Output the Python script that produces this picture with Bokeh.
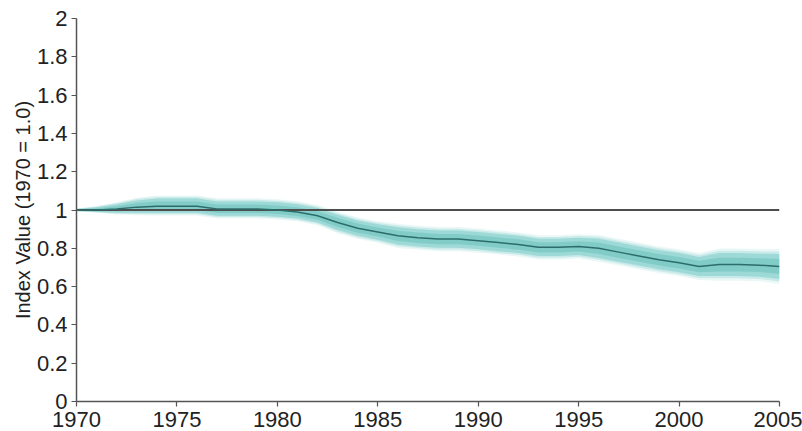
from bokeh.plotting import figure
from bokeh.models import FixedTicker, CustomJSTickFormatter, ColumnDataSource
from bokeh.embed import file_html
from bokeh.resources import INLINE

years = list(range(1970, 2006))
index_value = [1.00, 1.00, 1.005, 1.015, 1.02, 1.02, 1.02, 1.005, 1.005, 1.005,
               1.00, 0.99, 0.97, 0.935, 0.905, 0.885, 0.865, 0.855, 0.848, 0.848,
               0.84, 0.83, 0.82, 0.805, 0.805, 0.81, 0.80, 0.78, 0.76, 0.74,
               0.725, 0.705, 0.715, 0.715, 0.712, 0.705]
upper = [1.005, 1.015, 1.03, 1.05, 1.06, 1.06, 1.06, 1.045, 1.045, 1.045,
         1.04, 1.03, 1.01, 0.975, 0.945, 0.925, 0.91, 0.90, 0.893, 0.893,
         0.885, 0.875, 0.865, 0.85, 0.85, 0.855, 0.85, 0.83, 0.81, 0.79,
         0.775, 0.755, 0.775, 0.775, 0.772, 0.77]
lower = [0.995, 0.99, 0.985, 0.985, 0.985, 0.985, 0.985, 0.97, 0.97, 0.97,
         0.965, 0.955, 0.935, 0.895, 0.865, 0.845, 0.82, 0.81, 0.803, 0.803,
         0.795, 0.785, 0.775, 0.76, 0.76, 0.765, 0.75, 0.73, 0.71, 0.69,
         0.675, 0.655, 0.655, 0.655, 0.652, 0.64]
baseline = [1.0, 1.0]
baseline_years = [1970, 2005]
x_ticks = [1970, 1975, 1980, 1985, 1990, 1995, 2000, 2005]
y_ticks = [0, 0.2, 0.4, 0.6, 0.8, 1, 1.2, 1.4, 1.6, 1.8, 2]

FONT = "Liberation Sans"

p = figure(width=802, height=431, x_range=(1970, 2005), y_range=(0, 2),
           output_backend="svg", toolbar_location=None,
           min_border_left=76, min_border_right=23, min_border_top=18,
           min_border_bottom=30)
p.outline_line_color = None
p.grid.visible = False
p.background_fill_color = "white"

src = ColumnDataSource(dict(x=years, y=index_value, up=upper, lo=lower))

# fuzzy band: several layers
mid = index_value
for scale, color, alpha in [(1.4, "#dcf2f1", 0.6), (1.2, "#b2e1de", 0.6),
                            (1.0, "#86d0cc", 0.65), (0.6, "#62bdb9", 0.45)]:
    up_s = [m + (u - m) * scale for m, u in zip(mid, upper)]
    lo_s = [m - (m - l) * scale for m, l in zip(mid, lower)]
    p.varea(x=years, y1=lo_s, y2=up_s, fill_color=color, fill_alpha=alpha)

p.line(baseline_years, baseline, line_color="#4d4d4d", line_width=2)
p.line("x", "y", source=src, line_color="#2c6d6c", line_width=1.5)

for ax in (p.xaxis[0], p.yaxis[0]):
    ax.axis_line_color = "#555555"
    ax.axis_line_width = 1.5
    ax.major_tick_line_color = "#555555"
    ax.major_tick_line_width = 1.2
    ax.major_tick_in = 0
    ax.major_tick_out = 5
    ax.minor_tick_line_color = None
    ax.major_label_text_font = FONT
    ax.major_label_text_font_size = "22px"
    ax.major_label_text_color = "#222222"

p.xaxis.ticker = FixedTicker(ticks=x_ticks)
p.yaxis.ticker = FixedTicker(ticks=y_ticks)
p.yaxis.formatter = CustomJSTickFormatter(code="return String(Math.round(tick*10)/10);")
p.xaxis.major_label_standoff = 5
p.yaxis.major_label_standoff = 4
p.yaxis.axis_label = "Index Value (1970 = 1.0)"
p.yaxis.axis_label_text_font = FONT
p.yaxis.axis_label_text_font_size = "20px"
p.yaxis.axis_label_text_font_style = "normal"
p.yaxis.axis_label_text_color = "#222222"
p.yaxis.axis_label_standoff = 0

open("out.html", "w").write(file_html(p, INLINE))
